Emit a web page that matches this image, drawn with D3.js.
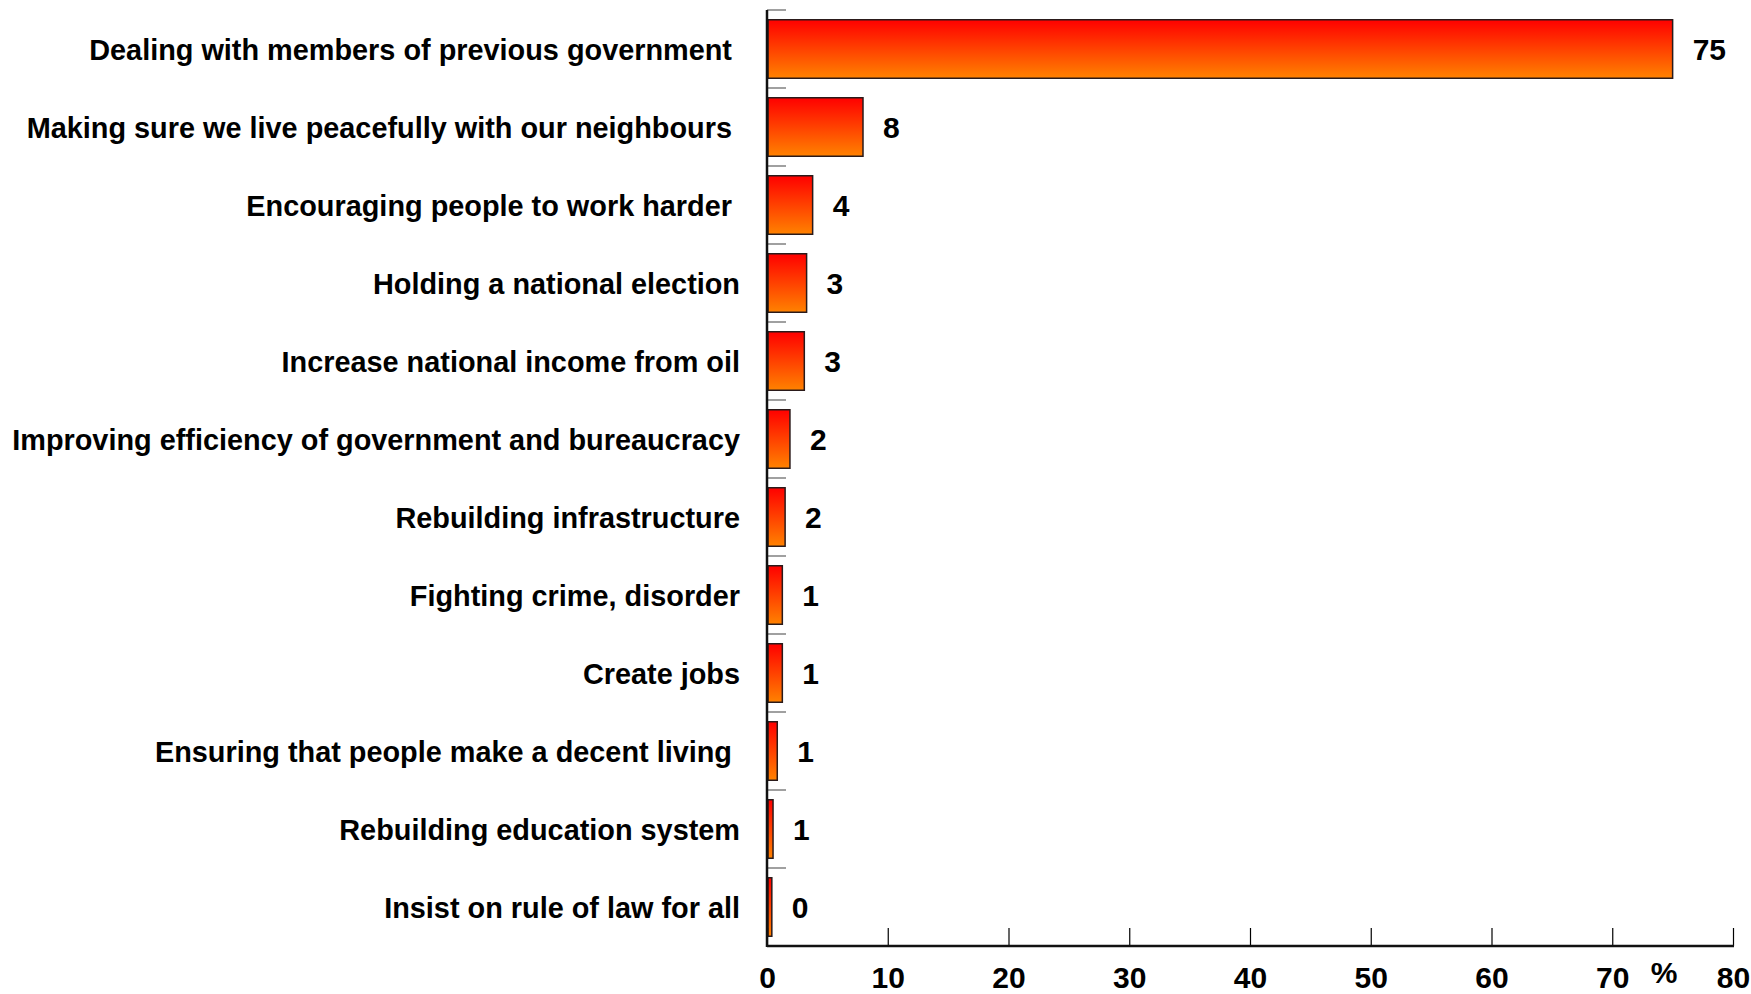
<!DOCTYPE html>
<html>
<head>
<meta charset="utf-8">
<script src="https://cdn.jsdelivr.net/npm/d3@7"></script>
<style>
  html, body { margin: 0; padding: 0; background: #ffffff; }
  svg { display: block; }
  text { font-family: "Liberation Sans", Arial, sans-serif; font-weight: bold; fill: #000; }
</style>
</head>
<body>
<svg id="chart" width="1751" height="994"></svg>
<script>
const categories = [
  "Dealing with members of previous government ",
  "Making sure we live peacefully with our neighbours ",
  "Encouraging people to work harder ",
  "Holding a national election",
  "Increase national income from oil",
  "Improving efficiency of government and bureaucracy",
  "Rebuilding infrastructure",
  "Fighting crime, disorder",
  "Create jobs",
  "Ensuring that people make a decent living ",
  "Rebuilding education system",
  "Insist on rule of law for all"
];
const values = [75, 7.95, 3.78, 3.28, 3.09, 1.9, 1.5, 1.27, 1.27, 0.85, 0.5, 0.4];
const valueLabels = ["75", "8", "4", "3", "3", "2", "2", "1", "1", "1", "1", "0"];
const xTicks = [0, 10, 20, 30, 40, 50, 60, 70, 80];
const axisUnit = "%";

const svg = d3.select("#chart");
const mLeft = 767, mRight = 1733, mTop = 10, mBottom = 946;

const x = d3.scaleLinear().domain([0, 80]).range([mLeft, mRight]);
const y = d3.scaleBand().domain(categories).range([mTop, mBottom]).paddingInner(0.25).paddingOuter(0.125);
const yb = d3.scaleBand().domain(categories).range([mTop, mBottom]);

const defs = svg.append("defs");
const grad = defs.append("linearGradient").attr("id", "barGrad")
  .attr("x1", 0).attr("y1", 0).attr("x2", 0).attr("y2", 1);
grad.append("stop").attr("offset", "0%").attr("stop-color", "#ff0000");
grad.append("stop").attr("offset", "100%").attr("stop-color", "#ff8200");

// bars
svg.append("g").selectAll("rect").data(values).join("rect")
  .attr("x", x(0) + 1)
  .attr("y", (d, i) => y(categories[i]))
  .attr("width", d => x(d) - x(0) - 1)
  .attr("height", y.bandwidth())
  .attr("fill", "url(#barGrad)")
  .attr("stroke", "#2a1a1a")
  .attr("stroke-width", 1.5);

// y ticks (category boundaries), grey, pointing inward
svg.append("g").selectAll("line").data(categories).join("line")
  .attr("x1", mLeft).attr("x2", mLeft + 19)
  .attr("y1", d => yb(d)).attr("y2", d => yb(d))
  .attr("stroke", "#808080").attr("stroke-width", 1.5);

// x axis
const xAxis = d3.axisBottom(x).tickValues(xTicks).tickSize(-18).tickPadding(10).tickFormat(d3.format("d"));
const gx = svg.append("g").attr("transform", `translate(0,${mBottom})`).call(xAxis);
gx.select(".domain").remove();
gx.selectAll(".tick line").attr("stroke", "#000").attr("stroke-width", 1.2);
gx.selectAll(".tick text")
  .attr("y", 0).attr("dy", null)
  .attr("transform", "translate(0,42)")
  .style("font-family", "'Liberation Sans', Arial, sans-serif")
  .style("font-weight", "bold")
  .style("font-size", "30px")
  .attr("fill", "#000");

// axis lines
svg.append("line").attr("x1", mLeft).attr("x2", mLeft).attr("y1", mTop).attr("y2", mBottom + 1)
  .attr("stroke", "#111").attr("stroke-width", 2.5);
svg.append("line").attr("x1", mLeft).attr("x2", mRight + 1).attr("y1", mBottom).attr("y2", mBottom)
  .attr("stroke", "#111").attr("stroke-width", 2.5);

// category labels
svg.append("g").selectAll("text").data(categories).join("text")
  .attr("transform", d => `translate(740,${yb(d) + yb.bandwidth() / 2 + 10.8}) scale(0.962,1)`)
  .attr("text-anchor", "end")
  .style("white-space", "pre")
  .style("font-size", "30px")
  .text(d => d);

// value labels
svg.append("g").selectAll("text").data(values).join("text")
  .attr("x", d => x(d) + 20)
  .attr("y", (d, i) => yb(categories[i]) + yb.bandwidth() / 2 + 10.8)
  .style("font-size", "30px")
  .text((d, i) => valueLabels[i]);

// unit label
svg.append("text")
  .attr("x", x(74.3)).attr("y", 983)
  .attr("text-anchor", "middle")
  .style("font-size", "30px")
  .text(axisUnit);
</script>
</body>
</html>
